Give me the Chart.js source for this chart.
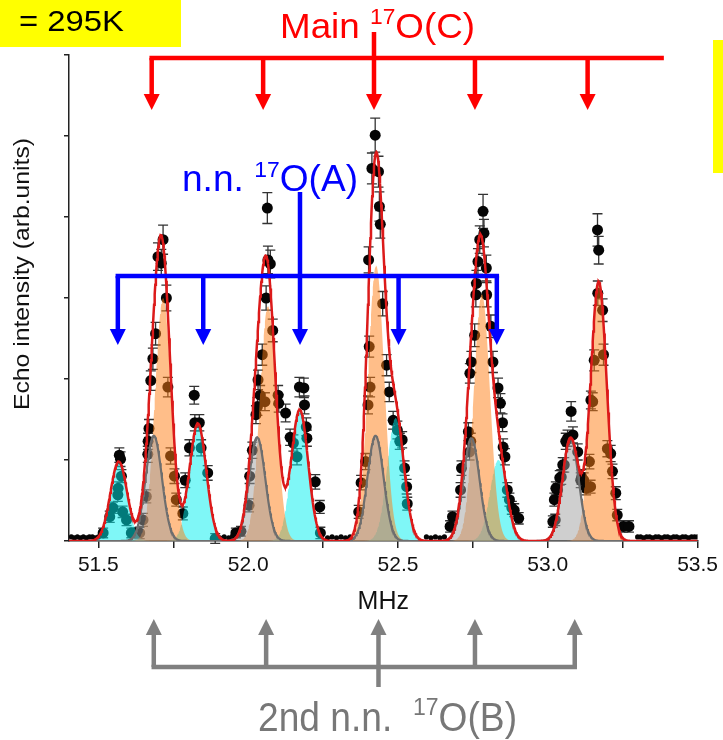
<!DOCTYPE html>
<html>
<head>
<meta charset="utf-8">
<script src="https://cdn.jsdelivr.net/npm/chart.js@4.4.1/dist/chart.umd.min.js"></script>
<style>
  html, body { margin: 0; padding: 0; background: #fff; }
  canvas { display: block; }
</style>
</head>
<body>
<canvas id="chart" width="723" height="740"></canvas>
<script>
const freq = [
  51.516, 51.538, 51.549, 51.565, 51.566, 51.570, 51.574, 51.577, 51.581, 51.594, 51.610, 51.621,
  51.638, 51.649, 51.660, 51.665, 51.666, 51.669, 51.675, 51.682, 51.691, 51.699, 51.710, 51.716, 51.727,
  51.732, 51.741, 51.754, 51.760, 51.782, 51.790, 51.804, 51.820, 51.822, 51.837, 51.843, 51.865, 51.890,
  51.959, 51.976, 52.003, 52.005, 52.014, 52.026, 52.031, 52.033, 52.040, 52.047, 52.056, 52.060, 52.064,
  52.066, 52.074, 52.082, 52.100, 52.102, 52.125, 52.140, 52.151, 52.163, 52.171, 52.186, 52.188, 52.194,
  52.196, 52.224, 52.239, 52.241,
  52.369, 52.377, 52.392, 52.400, 52.402, 52.404, 52.407, 52.413, 52.424, 52.435, 52.438, 52.441, 52.449,
  52.462, 52.471, 52.484, 52.498, 52.506, 52.514, 52.522, 52.529, 52.531,
  52.674, 52.682, 52.709, 52.712, 52.735, 52.739, 52.740, 52.743, 52.745, 52.756, 52.760, 52.762, 52.767,
  52.773, 52.784, 52.787, 52.795, 52.796, 52.810, 52.817, 52.834, 52.842, 52.849, 52.851, 52.857, 52.865,
  52.872, 52.880, 52.888, 52.903,
  53.017, 53.022, 53.025, 53.027, 53.033, 53.040, 53.045, 53.050, 53.055, 53.060, 53.066, 53.078, 53.084,
  53.100, 53.110, 53.113, 53.120, 53.128, 53.139, 53.143, 53.144, 53.150, 53.155, 53.166, 53.167, 53.170,
  53.183, 53.186, 53.199, 53.210, 53.216, 53.227, 53.232, 53.252, 53.271
];
const intensity = [
  0.10, 0.30, 0.41, 0.57, 0.65, 1.06, 1.01, 0.80, 0.36, 0.26, 0.10, 0.10,
  0.10, 0.26, 0.55, 1.07, 1.23, 1.39, 1.98, 2.25, 2.56, 3.51, 3.43, 3.72, 3.00,
  1.90, 1.05, 0.80, 0.51, 0.34, 0.75, 1.15, 1.80, 1.46, 1.46, 1.15, 0.84, 0.03,
  0.10, 0.12, 0.44, 0.80, 1.12, 1.56, 1.66, 1.99, 1.80, 2.30, 1.72, 3.00, 4.11,
  3.47, 3.42, 2.60, 1.80, 1.70, 1.58, 1.28, 1.21, 1.04, 1.90, 1.89, 1.68, 1.41,
  1.27, 0.73, 0.42, 0.10,
  0.36, 0.72, 0.98, 1.68, 3.47, 2.40, 1.90, 4.60, 5.01, 4.56, 4.13, 3.91, 2.93,
  2.17, 1.84, 1.49, 1.37, 1.23, 1.25, 0.90, 0.67, 0.46,
  0.18, 0.30, 0.63, 0.90, 1.35, 1.10, 2.07, 1.23, 2.21, 2.54, 3.04, 3.18, 3.45,
  3.72, 4.07, 3.80, 3.37, 3.04, 2.65, 2.21, 1.89, 1.70, 1.46, 1.16, 1.04, 0.63,
  0.51, 0.41, 0.38, 0.28,
  0.24, 0.51, 0.26, 0.65, 0.63, 0.78, 0.79, 0.94, 0.94, 1.23, 1.27, 1.60, 1.31,
  1.10, 0.75, 0.79, 0.75, 0.65, 0.98, 0.67, 1.74, 1.72, 2.23, 3.84, 3.06, 3.59,
  2.85, 2.30, 1.14, 1.08, 0.86, 0.59, 0.32, 0.18, 0.18
];
const intensityErr = [
  0.06, 0.07, 0.07, 0.08, 0.08, 0.09, 0.09, 0.08, 0.07, 0.07, 0.06, 0.06,
  0.07, 0.08, 0.08, 0.10, 0.10, 0.11, 0.12, 0.13, 0.14, 0.17, 0.17, 0.18, 0.16,
  0.12, 0.10, 0.09, 0.08, 0.08, 0.09, 0.10, 0.11, 0.10, 0.10, 0.10, 0.09, 0.06,
  0.06, 0.06, 0.08, 0.09, 0.10, 0.11, 0.11, 0.12, 0.12, 0.13, 0.11, 0.15, 0.19,
  0.17, 0.17, 0.14, 0.12, 0.11, 0.11, 0.10, 0.10, 0.10, 0.12, 0.12, 0.11, 0.11,
  0.10, 0.09, 0.08, 0.07,
  0.08, 0.09, 0.10, 0.11, 0.16, 0.13, 0.12, 0.19, 0.21, 0.19, 0.18, 0.17, 0.15,
  0.13, 0.12, 0.11, 0.11, 0.10, 0.10, 0.09, 0.09, 0.08,
  0.07, 0.07, 0.09, 0.09, 0.11, 0.10, 0.12, 0.10, 0.13, 0.14, 0.15, 0.16, 0.16,
  0.17, 0.21, 0.17, 0.16, 0.15, 0.14, 0.13, 0.12, 0.12, 0.11, 0.10, 0.10, 0.09,
  0.08, 0.08, 0.08, 0.07,
  0.07, 0.08, 0.07, 0.08, 0.08, 0.09, 0.09, 0.09, 0.09, 0.10, 0.10, 0.12, 0.10,
  0.10, 0.09, 0.09, 0.09, 0.08, 0.09, 0.08, 0.11, 0.11, 0.13, 0.20, 0.15, 0.17,
  0.14, 0.13, 0.10, 0.10, 0.09, 0.08, 0.07, 0.07, 0.07
];

// baseline points (no signal)
const baseFreq = [
  51.41, 51.42, 51.43, 51.44, 51.45, 51.46, 51.47, 51.48, 51.49, 51.50,
  51.905, 51.92, 51.935, 51.948,
  52.265, 52.28, 52.295, 52.31, 52.325, 52.34,
  52.595, 52.61, 52.625, 52.64, 52.655,
  53.30, 53.31, 53.32, 53.33, 53.34, 53.35, 53.36, 53.37, 53.38, 53.39,
  53.40, 53.41, 53.42, 53.43, 53.44, 53.45, 53.46, 53.47, 53.48, 53.49, 53.50
];
const baseIntensity = [
  0.05, 0.04, 0.05, 0.04, 0.05, 0.04, 0.05, 0.05, 0.04, 0.05,
  0.04, 0.05, 0.04, 0.06,
  0.04, 0.05, 0.04, 0.05, 0.04, 0.05,
  0.05, 0.04, 0.05, 0.04, 0.05,
  0.05, 0.05, 0.04, 0.05, 0.05, 0.04, 0.05, 0.05, 0.04, 0.05,
  0.05, 0.04, 0.05, 0.05, 0.04, 0.05, 0.05, 0.04, 0.05, 0.05, 0.05
];

// gaussian fit components: n.n. 17O(A) cyan, 2nd n.n. 17O(B) grey, main 17O(C) orange
const siteACenters = [51.568, 51.832, 52.172, 52.492, 52.835];
const siteAHeights = [0.98, 1.45, 1.62, 1.52, 1.00];
const siteBCenters = [51.685, 52.030, 52.425, 52.745, 53.076];
const siteBHeights = [1.30, 1.28, 1.30, 1.27, 1.27];
const siteCCenters = [51.716, 52.066, 52.427, 52.780, 53.170];
const siteCHeights = [3.00, 2.90, 3.40, 3.05, 3.20];
const siteSigma = [0.028, 0.027, 0.027];

// arrow positions (MHz)
const mainMarks = [51.678, 52.050, 52.420, 52.757, 53.133];
const mainBracketEnd = 53.38;
const nnMarks = [51.565, 51.850, 52.173, 52.502, 52.830];
const nn2Marks = [51.685, 52.060, 52.435, 52.757, 53.090];

const xMin = 51.402;
const xMax = 53.5;

function gaussSum(centers, heights, sigma, x) {
  let s = 0;
  centers.forEach((c, i) => {
    s += heights[i] * Math.exp(-((x - c) * (x - c)) / (2 * sigma * sigma));
  });
  return s;
}

const grid = [];
for (let i = 0; i <= 1050; i++) grid.push(51.40 + i * 0.002);

const curveA = grid.map(x => ({ x, y: gaussSum(siteACenters, siteAHeights, siteSigma[0], x) }));
const curveB = grid.map(x => ({ x, y: gaussSum(siteBCenters, siteBHeights, siteSigma[1], x) }));
const curveC = grid.map(x => ({ x, y: gaussSum(siteCCenters, siteCHeights, siteSigma[2], x) }));
const curveTotal = grid.map((x, i) => ({ x, y: curveA[i].y + curveB[i].y + curveC[i].y }));

const points = freq.map((f, i) => ({ x: f, y: intensity[i] }));
const basePoints = baseFreq.map((f, i) => ({ x: f, y: baseIntensity[i] }));

const FONT = '"Liberation Sans", Arial, Helvetica, sans-serif';

const errorBars = {
  id: 'errorBars',
  beforeDatasetDraw(chart, args) {
    if (args.index !== 0) return;
    const ctx = chart.ctx;
    const y = chart.scales.y;
    const meta = chart.getDatasetMeta(0);
    ctx.save();
    ctx.strokeStyle = '#333';
    ctx.lineWidth = 1.3;
    meta.data.forEach((pt, i) => {
      const top = y.getPixelForValue(intensity[i] + intensityErr[i]);
      const bot = y.getPixelForValue(intensity[i] - intensityErr[i]);
      ctx.beginPath();
      ctx.moveTo(pt.x, top); ctx.lineTo(pt.x, bot);
      ctx.moveTo(pt.x - 5, top); ctx.lineTo(pt.x + 5, top);
      ctx.moveTo(pt.x - 5, bot); ctx.lineTo(pt.x + 5, bot);
      ctx.stroke();
    });
    ctx.restore();
  }
};

function drawArrow(ctx, x, yFrom, yTip, color) {
  const dir = Math.sign(yTip - yFrom);
  const headH = 16, headW = 8;
  ctx.strokeStyle = color;
  ctx.fillStyle = color;
  ctx.lineWidth = 4.5;
  ctx.lineCap = 'butt';
  ctx.beginPath();
  ctx.moveTo(x, yFrom);
  ctx.lineTo(x, yTip - dir * headH);
  ctx.stroke();
  ctx.beginPath();
  ctx.moveTo(x - headW, yTip - dir * headH);
  ctx.lineTo(x + headW, yTip - dir * headH);
  ctx.lineTo(x, yTip);
  ctx.closePath();
  ctx.fill();
}

function drawBar(ctx, x0, x1, y, color) {
  ctx.strokeStyle = color;
  ctx.lineWidth = 4.5;
  ctx.lineCap = 'square';
  ctx.beginPath();
  ctx.moveTo(x0, y);
  ctx.lineTo(x1, y);
  ctx.stroke();
}

// text with superscript parts, squeezed to the width it has in the figure
function drawLabel(ctx, parts, left, baseline, size, width, color) {
  ctx.save();
  ctx.fillStyle = color;
  ctx.textBaseline = 'alphabetic';
  ctx.textAlign = 'left';
  let total = 0;
  parts.forEach(p => {
    ctx.font = (p.sup ? size * 0.62 : size) + 'px ' + FONT;
    total += ctx.measureText(p.t).width;
  });
  ctx.translate(left, baseline);
  ctx.scale(width / total, 1);
  let x = 0;
  parts.forEach(p => {
    ctx.font = (p.sup ? size * 0.62 : size) + 'px ' + FONT;
    ctx.fillText(p.t, x, p.sup ? -size * 0.4 : 0);
    x += ctx.measureText(p.t).width;
  });
  ctx.restore();
}

const annotations = {
  id: 'annotations',
  afterDraw(chart) {
    const ctx = chart.ctx;
    const px = v => chart.scales.x.getPixelForValue(v);
    ctx.save();

    // temperature tag and side bar
    ctx.fillStyle = '#ffff00';
    ctx.fillRect(0, 0, 181, 47);
    ctx.fillRect(713, 40, 10, 133);
    drawLabel(ctx, [{ t: '= 295K' }], 19, 31, 29, 105, '#000');

    // y axis title
    ctx.save();
    ctx.translate(23, 274);
    ctx.rotate(-Math.PI / 2);
    ctx.font = '22px ' + FONT;
    const w = ctx.measureText('Echo intensity (arb.units)').width;
    ctx.scale(272 / w, 1);
    ctx.fillStyle = '#111';
    ctx.textAlign = 'center';
    ctx.textBaseline = 'middle';
    ctx.fillText('Echo intensity (arb.units)', 0, 0);
    ctx.restore();

    // main 17O(C)
    const red = '#ff0000';
    drawBar(ctx, px(mainMarks[0]), px(mainBracketEnd), 58, red);
    ctx.lineCap = 'butt';
    ctx.beginPath();
    ctx.moveTo(px(mainMarks[2]), 32);
    ctx.lineTo(px(mainMarks[2]), 58);
    ctx.stroke();
    mainMarks.forEach(m => drawArrow(ctx, px(m), 58, 110, red));
    drawLabel(ctx, [{ t: 'Main ' }, { t: '17', sup: true }, { t: 'O(C)' }], 280, 38, 35, 195, red);

    // n.n. 17O(A)
    const blue = '#0000ff';
    drawBar(ctx, px(nnMarks[0]), px(nnMarks[4]), 276, blue);
    ctx.lineCap = 'butt';
    ctx.beginPath();
    ctx.moveTo(px(nnMarks[2]), 192);
    ctx.lineTo(px(nnMarks[2]), 276);
    ctx.stroke();
    nnMarks.forEach(m => drawArrow(ctx, px(m), 276, 345, blue));
    drawLabel(ctx, [{ t: 'n.n. ' }, { t: '17', sup: true }, { t: 'O(A)' }], 182, 191, 36, 176, blue);

    // 2nd n.n. 17O(B)
    const grey = '#808080';
    drawBar(ctx, px(nn2Marks[0]), px(nn2Marks[4]), 667, grey);
    ctx.lineCap = 'butt';
    ctx.beginPath();
    ctx.moveTo(px(nn2Marks[2]), 667);
    ctx.lineTo(px(nn2Marks[2]), 687);
    ctx.stroke();
    nn2Marks.forEach(m => drawArrow(ctx, px(m), 667, 619, grey));
    drawLabel(ctx, [{ t: '2nd n.n.  ' }, { t: '17', sup: true }, { t: 'O(B)' }], 258, 731, 40, 259, '#777777');

    ctx.restore();
  }
};

new Chart(document.getElementById('chart'), {
  type: 'line',
  data: {
    datasets: [
      {
        label: 'data',
        data: points,
        showLine: false,
        pointRadius: 5.5,
        pointBackgroundColor: '#050505',
        pointBorderWidth: 0,
        order: 10
      },
      {
        label: 'baseline',
        data: basePoints,
        showLine: false,
        pointRadius: 2.6,
        pointBackgroundColor: '#050505',
        pointBorderWidth: 0,
        order: 9
      },
      {
        label: 'A',
        data: curveA,
        pointRadius: 0,
        borderWidth: 0,
        borderColor: 'rgba(0,0,0,0)',
        backgroundColor: 'rgba(0,240,240,0.5)',
        fill: 'origin',
        order: 5
      },
      {
        label: 'C',
        data: curveC,
        pointRadius: 0,
        borderWidth: 0,
        borderColor: 'rgba(0,0,0,0)',
        backgroundColor: 'rgba(255,125,20,0.5)',
        fill: 'origin',
        order: 4
      },
      {
        label: 'B',
        data: curveB,
        pointRadius: 0,
        borderWidth: 2.2,
        borderColor: '#6e6e6e',
        backgroundColor: 'rgba(160,160,160,0.5)',
        fill: 'origin',
        order: 3
      },
      {
        label: 'fit',
        data: curveTotal,
        pointRadius: 0,
        borderWidth: 2.5,
        borderColor: '#dc1a1a',
        fill: false,
        order: 1
      }
    ]
  },
  options: {
    responsive: false,
    animation: false,
    devicePixelRatio: 1,
    layout: { padding: { top: 55, right: 23, bottom: 123, left: 0 } },
    plugins: { legend: { display: false }, tooltip: { enabled: false } },
    scales: {
      x: {
        type: 'linear',
        min: xMin,
        max: xMax,
        afterFit: s => { s.height = 76; },
        border: { color: '#222', width: 1.5 },
        grid: { drawOnChartArea: false, drawTicks: true, tickLength: 7, color: '#222', lineWidth: 1.5 },
        ticks: {
          stepSize: 0.25,
          includeBounds: false,
          autoSkip: false,
          maxRotation: 0,
          padding: 5,
          color: '#111',
          font: { family: FONT, size: 21 },
          callback: v => (Math.abs(v * 2 - Math.round(v * 2)) < 1e-6 ? v.toFixed(1) : '')
        },
        title: {
          display: true,
          text: 'MHz',
          color: '#111',
          padding: 0,
          font: { family: FONT, size: 25 }
        }
      },
      y: {
        min: 0,
        max: 6,
        afterFit: s => { s.width = 69; },
        border: { color: '#222', width: 1.5 },
        grid: { drawOnChartArea: false, drawTicks: true, tickLength: 5, color: '#222', lineWidth: 1.5 },
        ticks: { stepSize: 1, display: false }
      }
    }
  },
  plugins: [errorBars, annotations]
});
</script>
</body>
</html>
